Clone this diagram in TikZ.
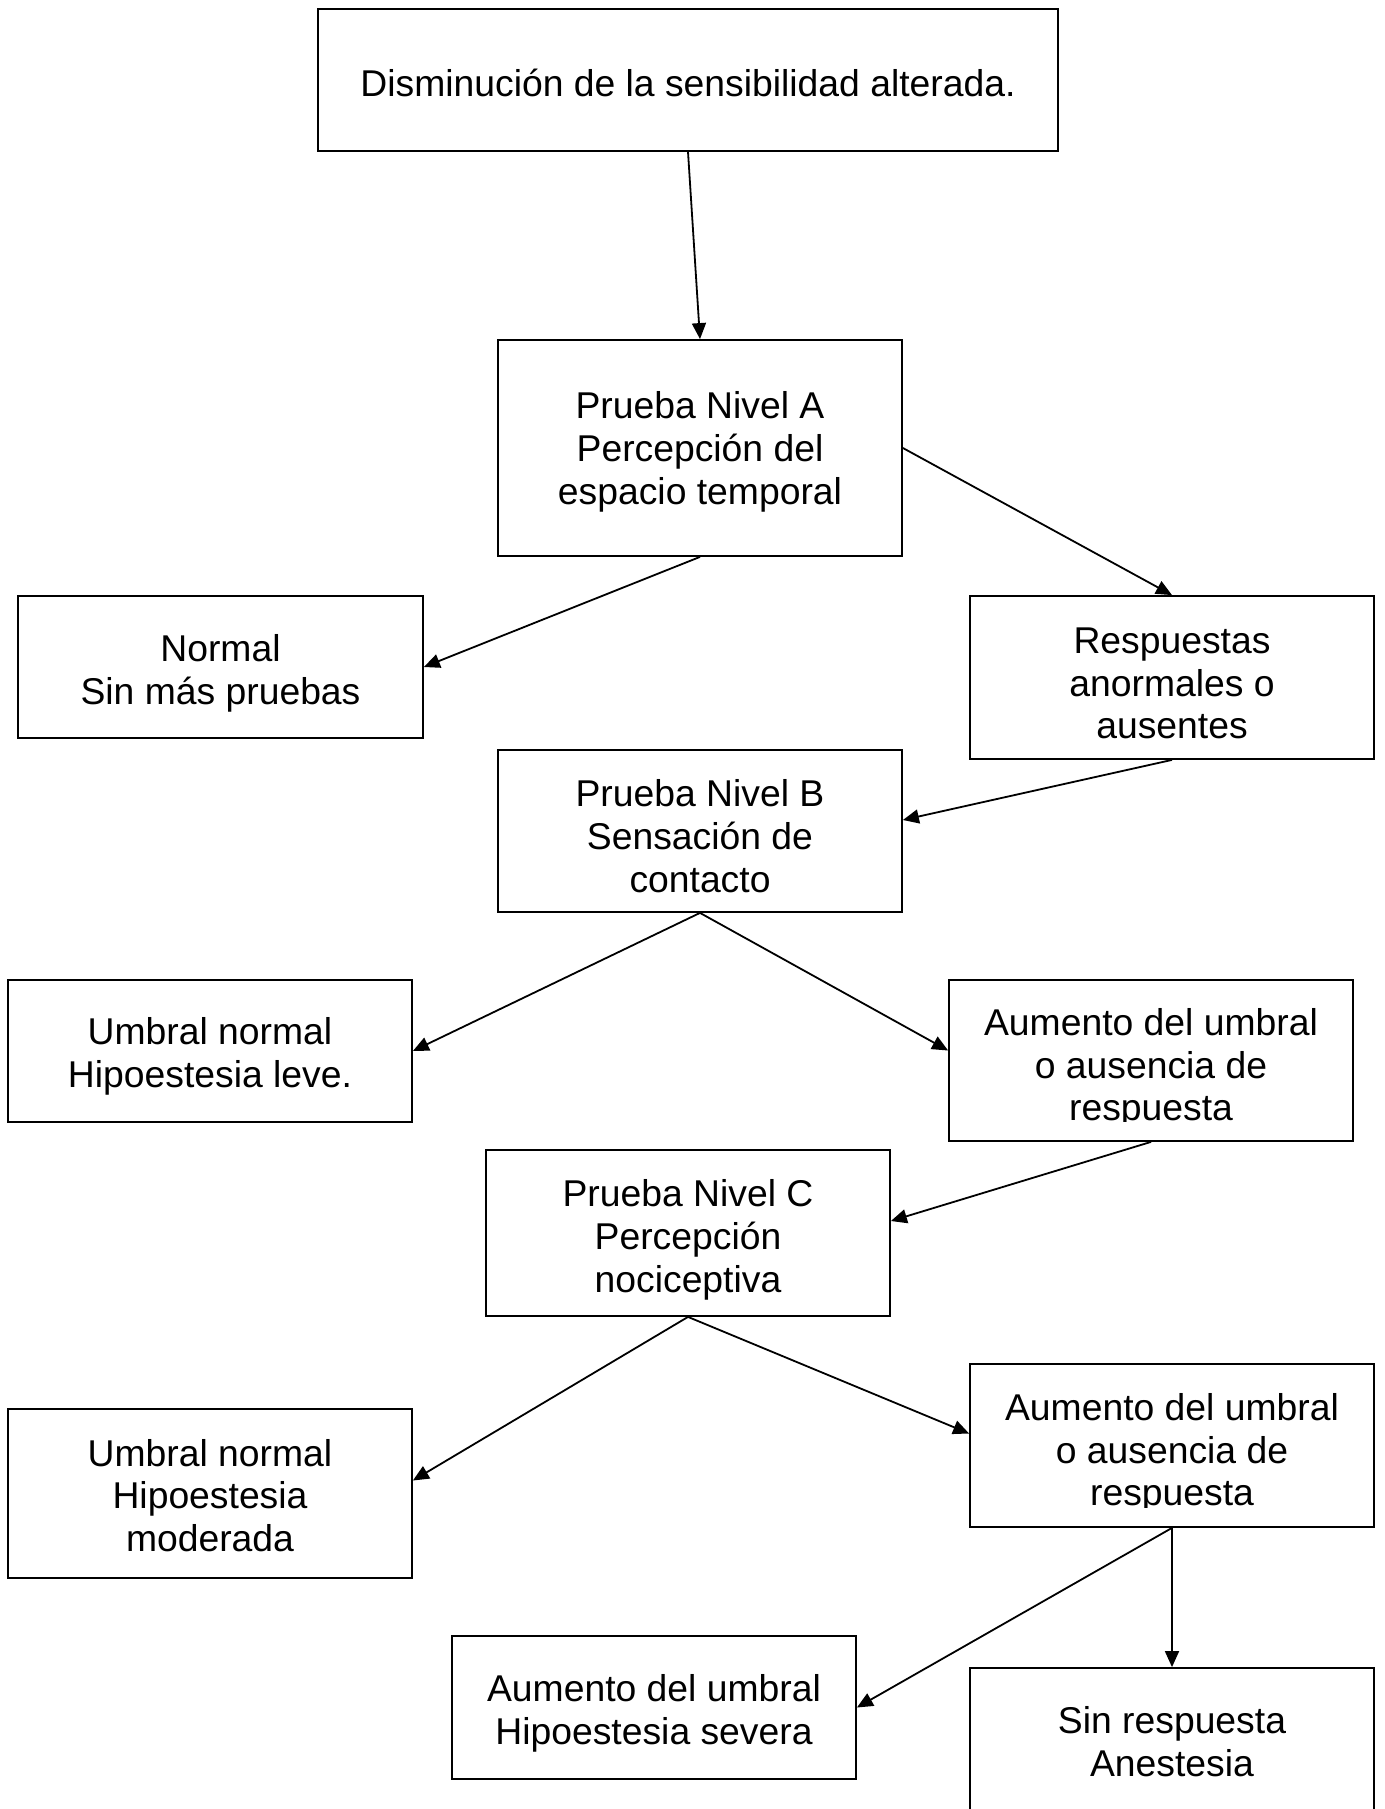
\documentclass[tikz,border=0pt]{standalone}
\usepackage{fontspec}
\setmainfont{Liberation Sans}
\usetikzlibrary{arrows.meta}
\tikzset{
  box/.style={draw=black, line width=1.8pt, rectangle, inner sep=0pt, minimum width=404pt},
  txt/.style={inner sep=0pt, align=center, font=\fontsize{37.3}{42.8}\selectfont},
  conn/.style={draw=black, line width=1.8pt, -{Triangle[length=16pt,width=14pt]}}
}
\begin{document}
\begin{tikzpicture}[x=1pt,y=-1pt]
\useasboundingbox (0,0) rectangle (1384,1809);
\clip (0,0) rectangle (1384,1809);
\fill[white] (0,0) rectangle (1384,1809);

% boxes
\node[box, minimum width=740pt, minimum height=142pt] (top) at (688,80) {};
\node[box, minimum height=216pt] (nA) at (700,448) {};
\node[box, minimum width=405pt, minimum height=142pt] (nor) at (220.5,667) {};
\node[box, minimum height=163pt] (resp) at (1172,677.5) {};
\node[box, minimum height=162pt] (nB) at (700,831) {};
\node[box, minimum height=142pt] (leve) at (210,1051) {};
\node[box, minimum height=161pt] (au1) at (1151,1060.5) {};
\node[box, minimum height=166pt] (nC) at (688,1233) {};
\node[box, minimum height=169pt] (mod) at (210,1493.5) {};
\node[box, minimum height=163pt] (au2) at (1172,1445.5) {};
\node[box, minimum height=143pt] (sev) at (654,1707.5) {};
\node[box, minimum height=146pt] (sin) at (1172,1741) {};

% texts
\node[txt] (topt) at ([yshift=-2.5pt]top.center) {Disminución de la sensibilidad alterada.};
\node[txt] (nAt) at ([yshift=-4pt]nA.center) {Prueba Nivel A\\Percepción del\\espacio temporal};
\node[txt] (nort) at ([yshift=-6pt]nor.center) {Normal\\Sin más pruebas};
\node[txt] (respt) at ([yshift=-6pt]resp.center) {Respuestas\\anormales o\\ausentes};
\node[txt] (nBt) at ([yshift=-5pt]nB.center) {Prueba Nivel B\\Sensación de\\contacto};
\node[txt] (levet) at ([yshift=-5pt]leve.center) {Umbral normal\\Hipoestesia leve.};
\node[txt] (nCt) at ([yshift=-7pt]nC.center) {Prueba Nivel C\\Percepción\\nociceptiva};
\node[txt] (modt) at ([yshift=-2pt]mod.center) {Umbral normal\\Hipoestesia\\moderada};
\node[txt] (sevt) at ([yshift=-6pt]sev.center) {Aumento del umbral\\Hipoestesia severa};
\node[txt] (sint) at ([yshift=-1pt]sin.center) {Sin respuesta\\Anestesia};

\begin{scope}
\clip (au1.north west) rectangle ([yshift=20pt]au1.south east);
\node[txt] (au1t) at ([yshift=-8pt]au1.center) {Aumento del umbral\\o ausencia de\\respuesta};
\end{scope}
\begin{scope}
\clip (au2.north west) rectangle ([yshift=20pt]au2.south east);
\node[txt] (au2t) at ([yshift=-8pt]au2.center) {Aumento del umbral\\o ausencia de\\respuesta};
\end{scope}

% connectors
\draw[conn] (top.south) -- (nA.north);
\draw[conn] (nA.east) -- (resp.north);
\draw[conn] (nA.south) -- (nor.east);
\draw[conn] (resp.south) -- ([yshift=11pt]nB.east);
\draw[conn] (nB.south) -- (leve.east);
\draw[conn] (nB.south) -- ([yshift=10pt]au1.west);
\draw[conn] (au1.south) -- ([yshift=12pt]nC.east);
\draw[conn] (nC.south) -- ([yshift=13pt]mod.east);
\draw[conn] (nC.south) -- ([yshift=12pt]au2.west);
\draw[conn] (au2.south) -- (sev.east);
\draw[conn] (au2.south) -- (sin.north);
\end{tikzpicture}
\end{document}
